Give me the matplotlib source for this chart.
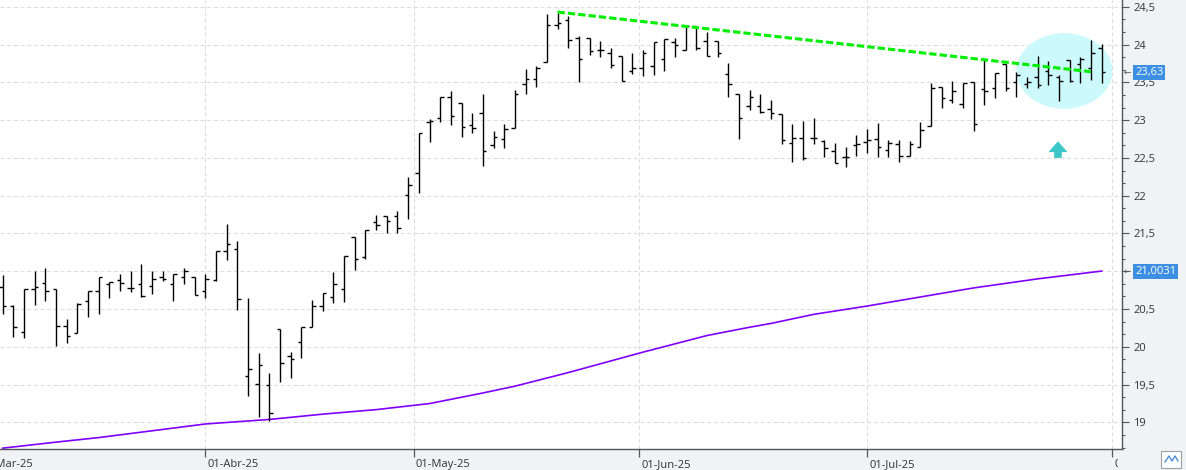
import numpy as np
import matplotlib.pyplot as plt
from matplotlib.patches import Ellipse, Rectangle
from matplotlib.lines import Line2D
from matplotlib.transforms import blended_transform_factory, Bbox, TransformedBbox

# daily OHLC, 05-Mar-25 .. 31-Jul-25 (one entry per session)
opens = [20.79, 20.54, 20.20, 20.77, 20.84, 20.77, 20.27, 20.18, 20.61, 20.74,
         20.83, 20.88, 20.78, 20.83, 20.81, 20.92, 20.83, 20.92, 20.92, 20.74,
         20.88, 21.27, 21.29, 19.62, 19.51, 19.49, 20.24, 19.88, 20.06, 20.26,
         20.54, 20.66, 20.76, 21.46, 21.19, 21.65, 21.73, 21.73, 22.01, 22.30,
         22.97, 23.03, 23.31, 23.23, 22.94, 23.10, 22.67, 22.75, 22.89, 23.48,
         23.54, 23.77, 24.26, 24.33, 24.09, 24.08, 23.93, 23.89, 23.85, 23.65,
         23.69, 23.72, 23.81, 24.03, 23.93, 24.24, 24.04, 24.04, 23.61, 23.34,
         23.19, 23.19, 23.15, 23.08, 22.70, 22.76, 22.76, 22.72, 22.59, 22.51,
         22.67, 22.71, 22.75, 22.61, 22.69, 22.53, 22.65, 22.92, 23.44, 23.27,
         23.21, 23.50, 23.41, 23.43, 23.74, 23.51, 23.48, 23.57, 23.65, 23.57,
         23.80, 23.74, 23.69, 23.96]
highs = [20.95, 20.55, 20.77, 21.01, 21.04, 20.77, 20.37, 20.58, 20.74, 20.92,
         20.86, 20.96, 21.01, 21.09, 21.00, 21.00, 20.96, 21.04, 20.92, 20.96,
         21.27, 21.62, 21.40, 20.65, 19.92, 19.65, 20.24, 19.93, 20.26, 20.62,
         20.71, 20.99, 21.20, 21.46, 21.55, 21.75, 21.73, 21.80, 22.25, 22.83,
         23.02, 23.31, 23.38, 23.23, 23.10, 23.34, 22.86, 22.95, 23.40, 23.68,
         23.71, 24.40, 24.42, 24.38, 24.11, 24.08, 24.04, 23.96, 23.85, 23.89,
         23.93, 24.03, 24.07, 24.09, 24.25, 24.24, 24.16, 24.05, 23.76, 23.34,
         23.40, 23.35, 23.27, 23.08, 22.95, 22.99, 23.03, 22.74, 22.70, 22.65,
         22.80, 22.88, 22.96, 22.74, 22.74, 22.72, 22.98, 23.49, 23.44, 23.52,
         23.49, 23.50, 23.80, 23.62, 23.74, 23.64, 23.57, 23.85, 23.78, 23.60,
         23.80, 23.84, 24.06, 24.01]
lows = [20.43, 20.13, 20.12, 20.56, 20.61, 20.01, 20.05, 20.18, 20.40, 20.44,
        20.65, 20.74, 20.73, 20.66, 20.70, 20.87, 20.61, 20.83, 20.69, 20.65,
        20.87, 21.15, 20.49, 19.35, 19.07, 19.02, 19.53, 19.59, 19.85, 20.26,
        20.47, 20.58, 20.60, 21.02, 21.16, 21.54, 21.50, 21.50, 21.69, 22.04,
        22.71, 22.97, 22.93, 22.77, 22.83, 22.39, 22.63, 22.63, 22.89, 23.34,
        23.44, 23.77, 24.20, 23.96, 23.51, 23.86, 23.84, 23.69, 23.52, 23.61,
        23.59, 23.60, 23.65, 23.83, 23.93, 23.93, 23.85, 23.84, 23.30, 22.75,
        23.13, 23.09, 23.02, 22.69, 22.44, 22.47, 22.69, 22.51, 22.43, 22.38,
        22.53, 22.57, 22.51, 22.51, 22.44, 22.53, 22.64, 22.92, 23.16, 23.22,
        23.16, 22.85, 23.20, 23.29, 23.38, 23.30, 23.43, 23.43, 23.46, 23.25,
        23.51, 23.49, 23.53, 23.49]
closes = [20.54, 20.26, 20.77, 20.79, 20.74, 20.27, 20.14, 20.57, 20.74, 20.92,
          20.86, 20.84, 20.78, 20.67, 20.90, 20.90, 20.96, 21.00, 20.69, 20.90,
          21.27, 21.36, 20.64, 19.71, 19.76, 19.12, 19.79, 19.84, 20.26, 20.54,
          20.71, 20.83, 21.20, 21.16, 21.55, 21.61, 21.66, 21.57, 22.14, 22.83,
          22.99, 23.31, 23.06, 22.91, 22.90, 22.59, 22.78, 22.88, 23.35, 23.54,
          23.69, 24.26, 24.29, 24.06, 23.81, 23.92, 23.93, 23.73, 23.52, 23.69,
          23.89, 24.03, 24.07, 24.00, 24.24, 23.95, 23.85, 23.89, 23.48, 23.03,
          23.31, 23.11, 23.10, 22.74, 22.76, 22.50, 22.76, 22.63, 22.43, 22.51,
          22.68, 22.74, 22.64, 22.70, 22.52, 22.68, 22.87, 23.43, 23.29, 23.38,
          23.49, 22.95, 23.38, 23.62, 23.43, 23.60, 23.51, 23.46, 23.60, 23.52,
          23.52, 23.81, 23.89, 23.63]

# month marks, in bar units (holidays / weekends fall between bars)
month_pos = [-2.33, 19, 38.5, 59.67, 81, 104]
month_lbl = ["01-Mar-25", "01-Abr-25", "01-May-25", "01-Jun-25", "01-Jul-25", "01-Ago-25"]

# long moving average, read at some bars
ma_bar = [0, 5, 9, 14, 19, 25, 30, 35, 40, 45, 48, 53, 60, 66, 70, 72, 76, 81, 86, 91, 97, 103]
ma_val = [18.66, 18.74, 18.80, 18.89, 18.98, 19.04, 19.11, 19.17, 19.25, 19.39, 19.48,
          19.66, 19.93, 20.15, 20.26, 20.31, 20.43, 20.54, 20.66, 20.78, 20.90, 21.0031]

# falling resistance drawn from the May high
trend_bar = [52, 102]
trend_val = [24.43, 23.64]

last_close = 23.63
ma_last = 21.0031

plt.rcParams['font.family'] = ['Open Sans', 'DejaVu Sans']

fig = plt.figure(figsize=(11.86, 4.70), dpi=100, facecolor='#f1f2f4')
ax = fig.add_axes([0, 21 / 470, 1122 / 1186, 449 / 470])
ax.set_facecolor('white')
ax.set_xlim(-0.253, 104.9)
ax.set_ylim(18.649, 24.589)

# grid
ax.set_axisbelow(True)
ax.set_yticks(np.arange(19, 24.51, 0.5))
ax.set_yticks(np.arange(18.5 + 0.5 / 3, 24.6, 0.5 / 3), minor=True)
ax.set_xticks(month_pos[1:])
ax.grid(True, which='major', color='#dcdcdc', lw=0.75, ls=(0, (3.8, 2.6)))

ax.yaxis.tick_right()
ax.set_yticklabels([('%g' % v).replace('.', ',') for v in np.arange(19, 24.51, 0.5)])
ax.tick_params(axis='y', which='major', length=5, width=0.8, color='#555555',
               labelcolor='#333333', labelsize=8, pad=3)
ax.tick_params(axis='y', which='minor', length=2.5, width=0.8, color='#555555')
ax.tick_params(axis='x', which='major', length=6, width=0.9, color='#555555',
               labelbottom=False)
for s in ['top', 'left']:
    ax.spines[s].set_visible(False)
for s in ['right', 'bottom']:
    ax.spines[s].set_color('#555555')
    ax.spines[s].set_linewidth(1)

# highlight of the last sessions
ax.add_patch(Ellipse((99.5, 23.65), 9.0, 1.0, fc='#ccfafc', ec='none', zorder=1))

# OHLC bars
idx = np.arange(len(opens))
ax.vlines(idx, lows, highs, color='black', lw=1.0, zorder=3)
ax.hlines(opens, idx - 0.33, idx, color='black', lw=1.0, zorder=3)
ax.hlines(closes, idx, idx + 0.33, color='black', lw=1.0, zorder=3)

ax.plot(ma_bar, ma_val, color='#8000ff', lw=1.2, zorder=2)
ax.plot(trend_bar, trend_val, color='#00ee00', lw=2.2, ls=(0, (2.4, 1.0)), zorder=4)

ax.annotate('', xy=(98.9, 22.72), xytext=(98.9, 22.50),
            arrowprops=dict(arrowstyle='simple,head_length=0.6,head_width=1.05,tail_width=0.42',
                            fc='#3cc8c8', ec='none', shrinkA=0, shrinkB=0, mutation_scale=13),
            zorder=4)

# last value labels on the price scale
tr = blended_transform_factory(fig.transFigure, ax.transData)
for val, txt in [(last_close, f"{last_close:.2f}"), (ma_last, f"{ma_last:.4f}")]:
    ax.text(1135 / 1186, val, txt.replace('.', ','), transform=tr, color='white', fontsize=8,
            va='center', ha='left', clip_on=False, zorder=6,
            bbox=dict(boxstyle='square,pad=0.18', fc='#3d8fe4', ec='none'))
    ax.text(1124 / 1186, val, '←', transform=tr, color='#555555', fontsize=6.5,
            va='center', ha='left', clip_on=False, zorder=6)

# month labels under the axis
trx = blended_transform_factory(ax.transData, fig.transFigure)
clip = TransformedBbox(Bbox.from_extents(0, 0, 1118 / 1186, 1), fig.transFigure)
for p, lbl in zip(month_pos, month_lbl):
    t = fig.text(p + 0.2, 5.5 / 470, lbl, transform=trx, fontsize=8, color='#333333',
                 ha='left', va='center')
    t.set_clip_box(clip)
    t.set_clip_on(True)

# small chart-type button at bottom right
fig.add_artist(Rectangle((1161 / 1186, 2 / 470), 20 / 1186, 17 / 470, transform=fig.transFigure,
                         fc='white', ec='#a0a0a0', lw=0.8))
fig.add_artist(Line2D([1165 / 1186, 1169 / 1186, 1172 / 1186, 1175 / 1186, 1178 / 1186],
                      [8 / 470, 14 / 470, 9 / 470, 14 / 470, 9 / 470],
                      transform=fig.transFigure, color='#4a90d9', lw=1))

fig.savefig('out.png', dpi=100, facecolor=fig.get_facecolor())
